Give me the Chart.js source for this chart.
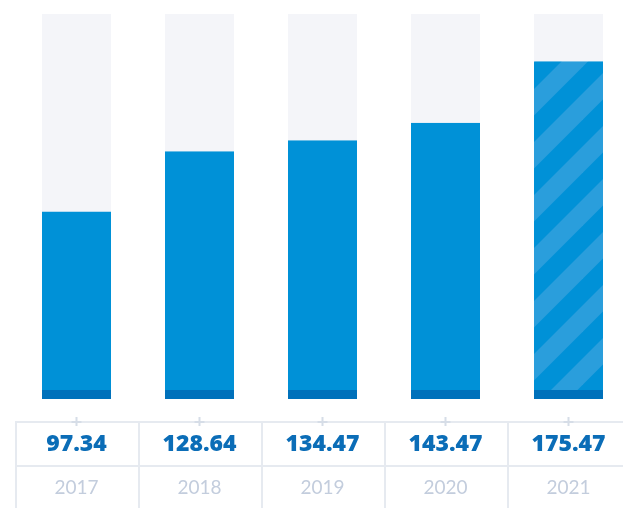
<!DOCTYPE html>
<html>
<head>
<meta charset="utf-8">
<script src="https://cdn.jsdelivr.net/npm/chart.js@4.4.1/dist/chart.umd.min.js"></script>
<style>
  html, body { margin: 0; padding: 0; background: #fff; }
  #wrap { width: 623px; height: 508px; overflow: hidden; }
</style>
</head>
<body>
<div id="wrap"><canvas id="myChart" width="630" height="508"></canvas></div>
<script>
var years = ["2017", "2018", "2019", "2020", "2021"];
var values = [97.34, 128.64, 134.47, 143.47, 175.47];
var scaleMax = 200;
var hatched = [false, false, false, false, true];

var BLUE = "#0091d7";
var BLUE_DARK = "#0071bb";
var STRIPE = "#2a9edc";
var TRACK = "#f4f5f9";
var LINE = "#e6eaf0";

// diagonal stripes for the last (estimated) year
function stripes() {
    var p = 53, w = 26.5, c = 40;
    var cv = document.createElement("canvas");
    cv.width = p;
    cv.height = p;
    var g = cv.getContext("2d");
    g.fillStyle = BLUE;
    g.fillRect(0, 0, p, p);
    g.fillStyle = STRIPE;
    [c - p, c, c + p].forEach(function (s) {
        g.beginPath();
        g.moveTo(s, 0);
        g.lineTo(s + w, 0);
        g.lineTo(s + w - p, p);
        g.lineTo(s - p, p);
        g.closePath();
        g.fill();
    });
    return g.createPattern(cv, "repeat");
}

var pattern = stripes();
var barColors = hatched.map(function (h) { return h ? pattern : BLUE; });

// value / year table under the bars
var tablePlugin = {
    id: "table",
    afterDraw: function (chart) {
        var ctx = chart.ctx;
        var x = chart.scales.x;
        var area = chart.chartArea;
        var half = (x.getPixelForValue(1) - x.getPixelForValue(0)) / 2;
        var top = area.bottom + 23;
        var mid = area.bottom + 67;
        var bottom = chart.height;

        ctx.save();
        ctx.strokeStyle = LINE;
        ctx.lineWidth = 2;
        ctx.beginPath();
        ctx.moveTo(area.left, top);
        ctx.lineTo(chart.width, top);
        ctx.moveTo(area.left, mid);
        ctx.lineTo(chart.width, mid);
        for (var i = 0; i <= years.length; i++) {
            var bx = x.getPixelForValue(0) - half + i * 2 * half + 1;
            ctx.moveTo(bx, top);
            ctx.lineTo(bx, bottom);
        }
        ctx.stroke();

        ctx.textAlign = "center";
        ctx.textBaseline = "middle";
        years.forEach(function (y, i) {
            var cx = x.getPixelForValue(i);
            // small plus marker on the top rule
            ctx.strokeStyle = "#d6dde7";
            ctx.lineWidth = 2;
            ctx.beginPath();
            ctx.moveTo(cx, top - 5);
            ctx.lineTo(cx, top + 4);
            ctx.moveTo(cx - 5, top);
            ctx.lineTo(cx + 5, top);
            ctx.stroke();

            ctx.fillStyle = "#0b6db7";
            ctx.font = "800 23px 'Open Sans'";
            ctx.fillText(values[i].toFixed(2), cx, top + 22);

            ctx.fillStyle = "#c3cddd";
            ctx.font = "19px Lato";
            ctx.fillText(y, cx, mid + 22);
        });
        ctx.restore();
    }
};

var chart = new Chart(document.getElementById("myChart"), {
    type: "bar",
    data: {
        labels: years,
        datasets: [
            {
                data: values,
                backgroundColor: barColors,
                borderColor: BLUE_DARK,
                borderWidth: { top: 0, left: 0, right: 0, bottom: 9 },
                borderSkipped: false,
                order: 0
            },
            {
                data: years.map(function () { return scaleMax; }),
                backgroundColor: TRACK,
                borderWidth: 0,
                order: 1
            }
        ]
    },
    options: {
        responsive: false,
        animation: false,
        devicePixelRatio: 1,
        layout: { padding: { left: 15, right: 0, top: 14, bottom: 109 } },
        datasets: {
            bar: {
                grouped: false,
                barPercentage: 0.561,
                categoryPercentage: 1.0,
                inflateAmount: 0
            }
        },
        scales: {
            x: { display: false },
            y: { display: false, min: 0, max: scaleMax }
        },
        plugins: {
            legend: { display: false },
            tooltip: { enabled: false }
        }
    },
    plugins: [tablePlugin]
});
</script>
</body>
</html>
